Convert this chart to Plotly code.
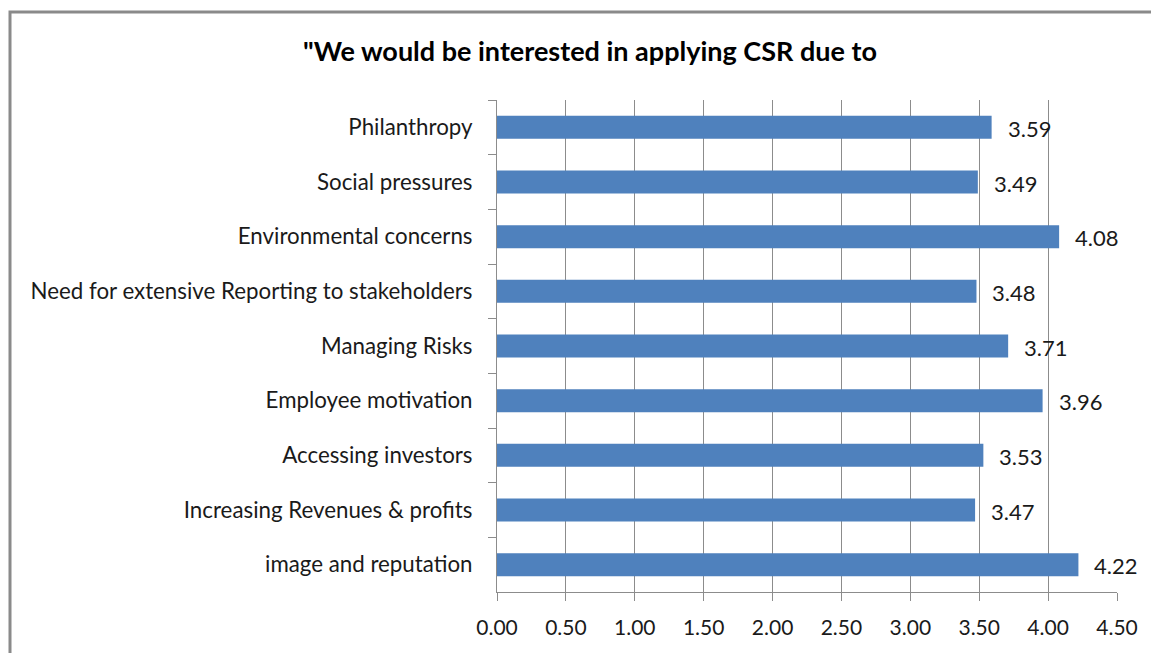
import plotly.graph_objects as go

categories = [
    "Philanthropy",
    "Social pressures",
    "Environmental concerns",
    "Need for extensive Reporting to stakeholders",
    "Managing Risks",
    "Employee motivation",
    "Accessing investors",
    "Increasing Revenues & profits",
    "image and reputation",
]
values = [3.59, 3.49, 4.08, 3.48, 3.71, 3.96, 3.53, 3.47, 4.22]
tick_vals = [0, 0.5, 1.0, 1.5, 2.0, 2.5, 3.0, 3.5, 4.0, 4.5]
tick_text = ["%.2f" % v for v in tick_vals]
title_text = '"We would be interested in applying CSR due to'

FONT = "Lato, Carlito, Calibri, sans-serif"

# page body has an 8px default margin -> compensate
OFF = 8
W, H = 1159 - OFF, 653 - OFF
L, R, T, B = 497 - OFF, 1117 - OFF, 100 - OFF, 592 - OFF
pw, ph = R - L, B - T


def px(x):
    return (x - OFF - L) / pw


def py(y):
    return (B - (y - OFF)) / ph


fig = go.Figure(go.Bar(
    x=values, y=categories, orientation="h",
    marker=dict(color="#4F81BD", line=dict(color="#4F81BD", width=0)),
    hoverinfo="x+y",
))

annotations = [
    dict(x=v, y=c, xref="x", yref="y", text="%.2f" % v, showarrow=False,
         xanchor="left", yanchor="middle", xshift=14, yshift=-1,
         font=dict(family=FONT, size=22, color="#1a1a1a"))
    for c, v in zip(categories, values)
]

fig.update_layout(
    width=W, height=H,
    margin=dict(l=L, r=W - R, t=T, b=H - B, pad=0),
    paper_bgcolor="white", plot_bgcolor="white",
    showlegend=False,
    bargap=0.58,
    title=dict(text="<b>" + title_text + "</b>", x=(590 - OFF) / W, xanchor="center",
               y=1 - (52 - OFF) / H, yanchor="middle", xref="container", yref="container",
               font=dict(family=FONT, size=27, color="black")),
    font=dict(family=FONT, color="#1a1a1a"),
    annotations=annotations,
    shapes=[dict(type="rect", xref="paper", yref="paper",
                 x0=px(10), x1=px(1180), y0=py(680), y1=py(12),
                 line=dict(color="#8a8a8a", width=3), layer="below")],
)
fig.update_xaxes(
    range=[0, 4.5], tickvals=tick_vals, ticktext=tick_text,
    showgrid=True, gridcolor="#8c8c8c", gridwidth=1,
    showline=True, linecolor="#8c8c8c", linewidth=1,
    ticks="outside", ticklen=8, tickcolor="#8c8c8c",
    tickfont=dict(family=FONT, size=21, color="#1a1a1a"),
    ticklabelstandoff=9, zeroline=False,
)
fig.update_yaxes(
    autorange="reversed", type="category",
    showline=True, linecolor="#8c8c8c", linewidth=1,
    ticks="outside", ticklen=8, tickcolor="#8c8c8c", tickson="boundaries",
    tickfont=dict(family=FONT, size=22.3, color="#1a1a1a"),
    ticklabelstandoff=19, showgrid=False,
)

fig.write_html("out.html")
